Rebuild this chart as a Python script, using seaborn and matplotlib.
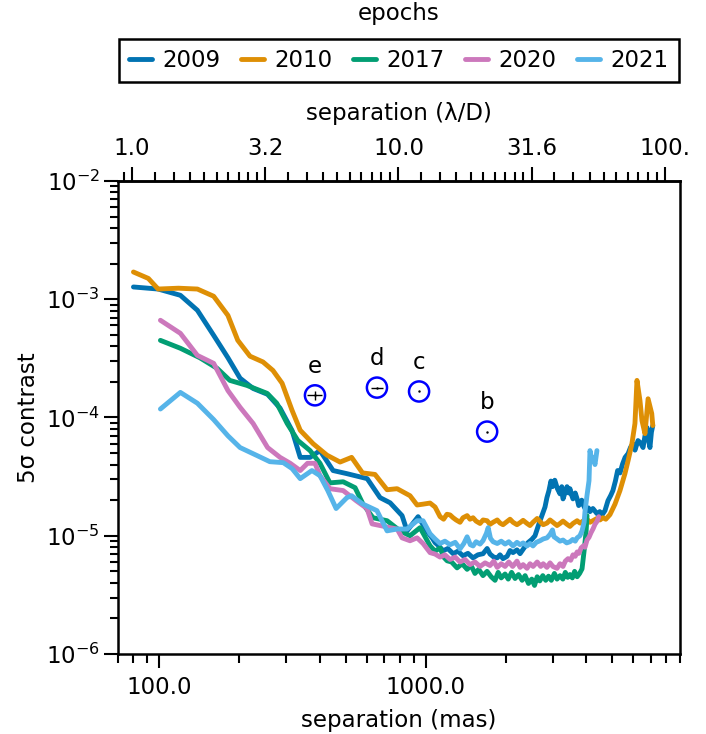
import numpy as np
import pandas as pd
import matplotlib
matplotlib.use('Agg')
import matplotlib.pyplot as plt
import matplotlib.ticker as mticker
import seaborn as sns

# 各观测历元的对比度曲线 (separation 单位 mas)
epochs = ['2009', '2010', '2017', '2020', '2021']
epoch_colors = ['#0173b2', '#de8f05', '#029e73', '#cc78bc', '#56b4e9']

sep_2009 = [80, 99, 120, 139, 160, 181, 201, 225, 255, 284, 315, 338, 368, 401, 449, 506,
            603, 674, 735, 815, 851, 936, 1020, 1060, 1084, 1120, 1162, 1210, 1267, 1320,
            1380, 1440, 1505, 1570, 1641, 1700, 1743, 1800, 1855, 1900, 1950, 2020, 2072,
            2126, 2200, 2259, 2340, 2420, 2500, 2571, 2640, 2720, 2803, 2850, 2900, 2950,
            2990, 3050, 3120, 3191, 3240, 3275, 3330, 3390, 3440, 3478, 3530, 3569, 3640,
            3700, 3750, 3792, 3850, 3890, 3960, 4030, 4080, 4134, 4240, 4390, 4500, 4590,
            4706, 4830, 4950, 5040, 5150, 5250, 5360, 5480, 5600, 5747, 5870, 5990, 6100,
            6260, 6400, 6540, 6650, 6770, 6850, 6942, 7030, 7115]
con_2009 = [1.27e-3, 1.22e-3, 1.08e-3, 8.07e-4, 4.95e-4, 3.2e-4, 2.15e-4, 1.76e-4, 1.57e-4,
            1.2e-4, 7.76e-5, 4.6e-5, 4.6e-5, 5.25e-5, 3.56e-5, 3.35e-5, 3.04e-5, 2.1e-5,
            1.9e-5, 1.48e-5, 1.10e-5, 1.45e-5, 1.06e-5, 9.5e-6, 8.75e-6, 8.2e-6, 7.46e-6,
            7.8e-6, 7.05e-6, 7.4e-6, 6.77e-6, 7.1e-6, 6.5e-6, 6.9e-6, 7.05e-6, 7.8e-6,
            7.0e-6, 6.6e-6, 6.5e-6, 6.9e-6, 6.4e-6, 6.7e-6, 7.5e-6, 7.2e-6, 7.6e-6, 7.05e-6,
            7.9e-6, 8.75e-6, 9.3e-6, 1.0e-5, 1.2e-5, 1.45e-5, 1.75e-5, 2.1e-5, 2.41e-5,
            2.9e-5, 2.6e-5, 2.95e-5, 2.5e-5, 2.26e-5, 2.6e-5, 2.05e-5, 2.3e-5, 2.6e-5,
            2.3e-5, 2.5e-5, 2.2e-5, 2.05e-5, 2.3e-5, 2.05e-5, 1.8e-5, 1.86e-5, 2.0e-5,
            1.85e-5, 1.7e-5, 1.63e-5, 1.72e-5, 1.6e-5, 1.7e-5, 1.54e-5, 1.6e-5, 1.5e-5,
            1.63e-5, 1.98e-5, 2.2e-5, 2.41e-5, 2.9e-5, 3.56e-5, 3.4e-5, 4.05e-5, 4.6e-5,
            4.95e-5, 5.6e-5, 6.0e-5, 5.3e-5, 6.38e-5, 6.1e-5, 5.57e-5, 7.0e-5, 8.2e-5,
            6.5e-5, 5.57e-5, 7.5e-5, 8.55e-5]

sep_2010 = [80, 91, 99, 118, 139, 160, 181, 197, 219, 245, 267, 289, 315, 338, 378, 426,
            477, 527, 579, 645, 716, 781, 873, 928, 977, 1038, 1084, 1132, 1167, 1201, 1234,
            1267, 1300, 1345, 1380, 1430, 1466, 1505, 1545, 1599, 1641, 1699, 1743, 1790,
            1855, 1901, 1950, 2020, 2072, 2126, 2200, 2259, 2320, 2400, 2462, 2527, 2620,
            2685, 2760, 2852, 2927, 3003, 3110, 3191, 3275, 3390, 3478, 3569, 3700, 3792,
            3890, 4030, 4134, 4240, 4390, 4507, 4620, 4740, 4914, 5131, 5357, 5594, 5747,
            5940, 6098, 6205, 6368, 6480, 6649, 6830, 7050, 7115]
con_2010 = [1.70e-3, 1.50e-3, 1.22e-3, 1.24e-3, 1.22e-3, 1.06e-3, 7.3e-4, 4.5e-4, 3.3e-4,
            2.95e-4, 2.5e-4, 1.95e-4, 1.15e-4, 7.8e-5, 6.0e-5, 4.8e-5, 4.2e-5, 4.6e-5,
            3.4e-5, 3.3e-5, 2.45e-5, 2.5e-5, 2.18e-5, 1.82e-5, 1.85e-5, 1.89e-5, 1.75e-5,
            1.45e-5, 1.38e-5, 1.52e-5, 1.5e-5, 1.42e-5, 1.36e-5, 1.3e-5, 1.42e-5, 1.48e-5,
            1.38e-5, 1.42e-5, 1.33e-5, 1.27e-5, 1.36e-5, 1.34e-5, 1.25e-5, 1.30e-5, 1.36e-5,
            1.28e-5, 1.24e-5, 1.32e-5, 1.38e-5, 1.30e-5, 1.24e-5, 1.29e-5, 1.35e-5, 1.27e-5,
            1.22e-5, 1.30e-5, 1.40e-5, 1.32e-5, 1.24e-5, 1.28e-5, 1.36e-5, 1.30e-5, 1.22e-5,
            1.27e-5, 1.33e-5, 1.25e-5, 1.20e-5, 1.27e-5, 1.34e-5, 1.28e-5, 1.33e-5, 1.38e-5,
            1.30e-5, 1.34e-5, 1.40e-5, 1.36e-5, 1.42e-5, 1.38e-5, 1.51e-5, 1.85e-5, 2.41e-5,
            3.36e-5, 4.32e-5, 6.0e-5, 8.9e-5, 2.06e-4, 1.39e-4, 9.4e-5, 7.3e-5, 1.44e-4,
            1.08e-4, 8.55e-5]

sep_2017 = [101, 120, 142, 165, 184, 213, 254, 276, 302, 331, 368, 401, 437, 490, 543, 581,
            634, 716, 801, 873, 952, 1038, 1084, 1132, 1167, 1203, 1250, 1311, 1370, 1430,
            1480, 1530, 1580, 1640, 1699, 1760, 1820, 1870, 1920, 1985, 2040, 2100, 2164,
            2230, 2300, 2360, 2430, 2500, 2560, 2620, 2680, 2750, 2820, 2890, 2960, 3040,
            3110, 3191, 3270, 3340, 3410, 3478, 3550, 3620, 3700, 3780, 3860, 3930, 4000,
            4030]
con_2017 = [4.49e-4, 3.85e-4, 3.2e-4, 2.6e-4, 2.06e-4, 1.87e-4, 1.6e-4, 1.32e-4, 8.9e-5,
            6.4e-5, 5.25e-5, 4.1e-5, 2.8e-5, 2.86e-5, 2.55e-5, 1.86e-5, 1.42e-5, 1.34e-5,
            1.10e-5, 1.0e-5, 1.17e-5, 8.23e-6, 7.4e-6, 7.9e-6, 6.6e-6, 6.14e-6, 6.0e-6,
            5.35e-6, 5.8e-6, 5.2e-6, 5.6e-6, 4.8e-6, 5.2e-6, 4.6e-6, 5.0e-6, 4.5e-6, 4.2e-6,
            4.9e-6, 4.4e-6, 4.75e-6, 4.3e-6, 4.9e-6, 4.35e-6, 4.7e-6, 4.2e-6, 4.6e-6,
            3.95e-6, 4.3e-6, 3.8e-6, 4.5e-6, 4.15e-6, 4.6e-6, 4.2e-6, 4.55e-6, 4.2e-6,
            4.8e-6, 4.3e-6, 4.6e-6, 4.3e-6, 4.9e-6, 4.45e-6, 4.7e-6, 4.4e-6, 5.0e-6, 4.5e-6,
            4.8e-6, 5.25e-6, 7.46e-6, 1.10e-5, 1.48e-5]

sep_2020 = [101, 120, 139, 160, 181, 201, 225, 255, 284, 310, 338, 360, 384, 401, 437, 490,
            548, 602, 629, 674, 735, 781, 815, 873, 928, 977, 1038, 1084, 1132, 1180, 1234,
            1290, 1345, 1405, 1466, 1530, 1599, 1670, 1743, 1800, 1855, 1920, 1985, 2050,
            2120, 2200, 2260, 2320, 2400, 2462, 2530, 2620, 2700, 2760, 2850, 2927, 3000,
            3110, 3190, 3275, 3340, 3420, 3500, 3570, 3640, 3700, 3760, 3830, 3900, 3960,
            4030, 4100, 4170, 4250, 4317, 4400, 4460]
con_2020 = [6.64e-4, 5.15e-4, 3.35e-4, 2.87e-4, 1.69e-4, 1.22e-4, 8.9e-5, 5.57e-5, 4.6e-5,
            4.1e-5, 3.56e-5, 4.1e-5, 4.1e-5, 3.22e-5, 2.5e-5, 2.41e-5, 1.98e-5, 1.7e-5,
            1.26e-5, 1.22e-5, 1.17e-5, 1.14e-5, 9.6e-6, 9.07e-6, 9.6e-6, 8.6e-6, 7.2e-6,
            7.0e-6, 6.6e-6, 6.9e-6, 6.3e-6, 6.6e-6, 6.0e-6, 6.3e-6, 5.7e-6, 6.0e-6, 5.5e-6,
            5.9e-6, 5.6e-6, 6.1e-6, 5.4e-6, 5.8e-6, 5.5e-6, 6.0e-6, 5.5e-6, 6.1e-6, 5.4e-6,
            5.7e-6, 5.3e-6, 5.8e-6, 5.5e-6, 6.0e-6, 5.5e-6, 5.8e-6, 5.4e-6, 5.9e-6, 5.5e-6,
            5.3e-6, 5.8e-6, 5.5e-6, 6.1e-6, 6.4e-6, 6.2e-6, 6.9e-6, 6.7e-6, 7.3e-6, 7.1e-6,
            7.9e-6, 8.2e-6, 8.0e-6, 9.2e-6, 9.7e-6, 1.06e-5, 1.15e-5, 1.25e-5, 1.33e-5,
            1.45e-5]

sep_2021 = [101, 120, 139, 160, 181, 201, 233, 260, 292, 315, 338, 374, 401, 429, 461, 506,
            527, 579, 656, 716, 781, 851, 928, 977, 1038, 1084, 1132, 1180, 1234, 1290, 1345,
            1390, 1430, 1470, 1505, 1545, 1599, 1641, 1690, 1715, 1750, 1790, 1855, 1920,
            1985, 2050, 2126, 2200, 2259, 2320, 2400, 2462, 2527, 2600, 2685, 2760, 2852,
            2930, 2990, 3030, 3110, 3191, 3275, 3380, 3478, 3560, 3640, 3700, 3790, 3860,
            3930, 3960, 4030, 4100, 4134, 4200, 4240, 4317, 4390]
con_2021 = [1.18e-4, 1.63e-4, 1.32e-4, 9.6e-5, 7.0e-5, 5.57e-5, 4.76e-5, 4.23e-5, 4.15e-5,
            3.7e-5, 3.04e-5, 3.56e-5, 3.22e-5, 2.41e-5, 1.7e-5, 2.1e-5, 2.18e-5, 1.86e-5,
            1.63e-5, 1.10e-5, 1.14e-5, 1.14e-5, 1.34e-5, 1.34e-5, 1.04e-5, 9.4e-6, 8.6e-6,
            9.0e-6, 8.4e-6, 8.8e-6, 7.75e-6, 8.6e-6, 9.8e-6, 8.4e-6, 8.2e-6, 8.9e-6, 8.5e-6,
            9.1e-6, 1.05e-5, 1.17e-5, 9.5e-6, 8.9e-6, 8.6e-6, 9.0e-6, 8.5e-6, 8.9e-6, 8.2e-6,
            8.8e-6, 8.4e-6, 8.7e-6, 8.2e-6, 8.6e-6, 8.2e-6, 8.8e-6, 9.07e-6, 9.4e-6, 9.6e-6,
            1.03e-5, 1.12e-5, 9.8e-6, 9.4e-6, 9.0e-6, 9.2e-6, 8.7e-6, 8.9e-6, 9.3e-6, 9.0e-6,
            9.6e-6, 1.0e-5, 1.10e-5, 1.3e-5, 1.6e-5, 2.2e-5, 2.92e-5, 5.25e-5, 4.4e-5, 4.6e-5,
            4.0e-5, 5.25e-5]

# 行星 (HR 8799 b-e)
planet_names = ['e', 'd', 'c', 'b']
planet_sep = [384, 656, 944, 1700]
planet_con = [1.54e-4, 1.79e-4, 1.66e-4, 7.6e-5]
planet_sep_err = [25, 35, 0, 0]
planet_con_err = [1.25e-5, 0, 0, 0]

mas_per_lod = 79.0
lod_ticks = [1.0, 10 ** 0.5, 10.0, 10 ** 1.5, 100.0]
lod_labels = ['1.0', '3.2', '10.0', '31.6', '100.']

# 整理成长表
seps = [sep_2009, sep_2010, sep_2017, sep_2020, sep_2021]
cons = [con_2009, con_2010, con_2017, con_2020, con_2021]
frames = []
for ep, s, c in zip(epochs, seps, cons):
    frames.append(pd.DataFrame({'sep': s, 'contrast': c, 'epoch': ep}))
df = pd.concat(frames, ignore_index=True)

sns.set_style('ticks')
plt.rcParams['font.family'] = ['DejaVu Sans']
plt.rcParams.update({
    'font.size': 16.5,
    'axes.labelsize': 16.5,
    'xtick.labelsize': 16.5,
    'ytick.labelsize': 16.5,
    'legend.fontsize': 16.5,
    'text.color': 'black',
    'axes.labelcolor': 'black',
    'axes.linewidth': 1.8,
    'axes.edgecolor': 'black',
    'xtick.color': 'black',
    'ytick.color': 'black',
    'xtick.major.size': 10, 'xtick.minor.size': 6.5,
    'ytick.major.size': 10, 'ytick.minor.size': 6,
    'xtick.major.width': 1.5, 'xtick.minor.width': 1.5,
    'ytick.major.width': 1.5, 'ytick.minor.width': 1.5,
    'xtick.major.pad': 6, 'ytick.major.pad': 3,
})

fig = plt.figure(figsize=(7.06, 7.34), dpi=100)
ax = fig.add_axes([118 / 706, 1 - 654 / 734, 562 / 706, 473 / 734])

sns.lineplot(data=df, x='sep', y='contrast', hue='epoch', hue_order=epochs,
             palette=dict(zip(epochs, epoch_colors)), estimator=None, sort=False,
             lw=3.5, ax=ax)

ax.set_xscale('log')
ax.set_yscale('log')
ax.set_xlim(70, 9000)
ax.set_ylim(1e-6, 1e-2)

# 行星标记
ax.errorbar(planet_sep, planet_con, xerr=planet_sep_err, yerr=planet_con_err,
            fmt='.', color='black', ms=1.5, elinewidth=1, capsize=0, zorder=5)
ax.scatter(planet_sep, planet_con, s=210, facecolors='none', edgecolors='blue',
           linewidths=1.8, zorder=6)
for name, s, c in zip(planet_names, planet_sep, planet_con):
    ax.annotate(name, (s, c), xytext=(0, 21), textcoords='offset points',
                ha='center', va='center', fontsize=16.5)

# 坐标轴
ax.xaxis.set_major_locator(mticker.FixedLocator([100, 1000]))
ax.xaxis.set_major_formatter(mticker.FixedFormatter(['100.0', '1000.0']))
ax.xaxis.set_minor_locator(mticker.LogLocator(base=10, subs=np.arange(2, 10), numticks=20))
ax.xaxis.set_minor_formatter(mticker.NullFormatter())
ax.yaxis.set_major_locator(mticker.LogLocator(base=10, numticks=10))
ax.yaxis.set_minor_locator(mticker.LogLocator(base=10, subs=np.arange(2, 10), numticks=20))
ax.yaxis.set_minor_formatter(mticker.NullFormatter())
ax.tick_params(which='both', direction='out', top=False, right=False)
ax.set_xlabel('separation (mas)', labelpad=7)
ax.set_ylabel('5σ contrast', labelpad=4)

secax = ax.secondary_xaxis('top', functions=(lambda x: x / mas_per_lod,
                                             lambda x: x * mas_per_lod))
lod_minor = []
for k in range(-1, 4):
    lo, hi = 10 ** (k / 2), 10 ** ((k + 1) / 2)
    lod_minor += [lo + (hi - lo) * j / 10 for j in range(1, 10)]
secax.xaxis.set_major_locator(mticker.FixedLocator(lod_ticks))
secax.xaxis.set_major_formatter(mticker.FixedFormatter(lod_labels))
secax.xaxis.set_minor_locator(mticker.FixedLocator(lod_minor))
secax.xaxis.set_minor_formatter(mticker.NullFormatter())
secax.tick_params(which='both', direction='out', pad=5)
secax.set_xlabel('separation (λ/D)', labelpad=12)

# 图例
handles, labels = ax.get_legend_handles_labels()
for h in handles:
    h.set_linewidth(3.5)
leg = ax.legend(handles, labels, ncol=5, loc='lower center',
                bbox_to_anchor=(0.5, 1.209), handlelength=1.0, columnspacing=0.9,
                handletextpad=0.45, borderpad=0.45, borderaxespad=0,
                frameon=True, fancybox=False, edgecolor='black', framealpha=1)
leg.get_frame().set_linewidth(1.8)
ax.text(0.5, 1.354, 'epochs', transform=ax.transAxes, ha='center', va='center',
        fontsize=16.5)

fig.savefig('out.png', dpi=100)
